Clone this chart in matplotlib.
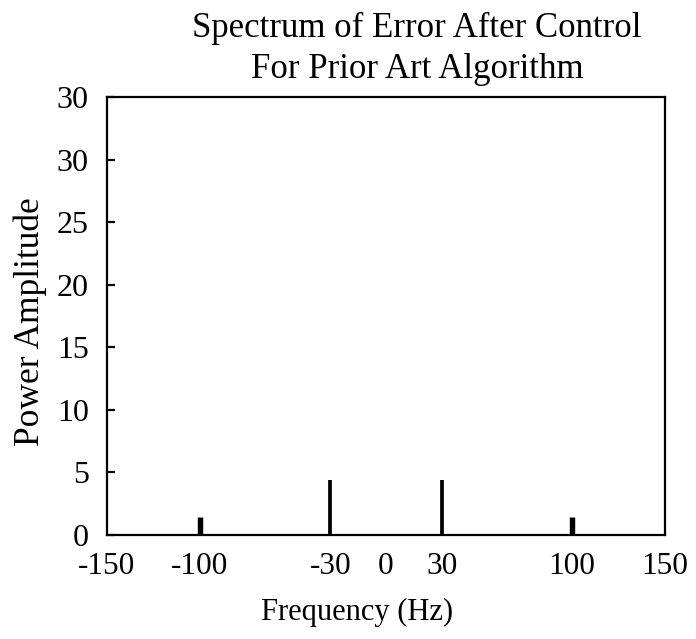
import matplotlib
matplotlib.use("Agg")
import matplotlib.pyplot as plt

# Spectral lines (frequency in Hz, power amplitude)
freqs = [-100, -30, 30, 100]
power = [1.45, 4.4, 4.4, 1.45]
line_widths = [3.9, 2.7, 2.7, 3.9]

x_ticks = [-150, -100, -30, 0, 30, 100, 150]
y_ticks = [0, 5, 10, 15, 20, 25, 30, 35]
y_tick_labels = ["0", "5", "10", "15", "20", "25", "30", "30"]

plt.rcParams["font.family"] = ["Liberation Serif", "DejaVu Serif"]

fig = plt.figure(figsize=(6.96, 6.39), dpi=100)
ax = fig.add_axes([0.1537, 0.1628, 0.8018, 0.6852])

ax.vlines(freqs, 0, power, colors="black", linewidth=line_widths)

ax.set_xlim(-150, 150)
ax.set_ylim(0, 35)
ax.set_xticks(x_ticks)
ax.set_xticklabels([str(t) for t in x_ticks])
ax.set_yticks(y_ticks)
ax.set_yticklabels(y_tick_labels)

for s in ax.spines.values():
    s.set_linewidth(1.6)
ax.tick_params(axis="y", direction="in", length=6, width=1.6, labelsize=23, pad=13)
ax.tick_params(axis="x", length=0, labelsize=22.5, pad=12)

fig.text(417 / 696, 1 - 28 / 639, "Spectrum of Error After Control", ha="center", va="center", fontsize=25)
fig.text(417 / 696, 1 - 69 / 639, "For Prior Art Algorithm", ha="center", va="center", fontsize=25)
fig.text(30 / 696, 1 - 322 / 639, "Power Amplitude", rotation=90, ha="center", va="center", fontsize=25.5)
fig.text(357 / 696, 1 - 612 / 639, "Frequency (Hz)", ha="center", va="center", fontsize=22)

fig.savefig("out.png", dpi=100)
